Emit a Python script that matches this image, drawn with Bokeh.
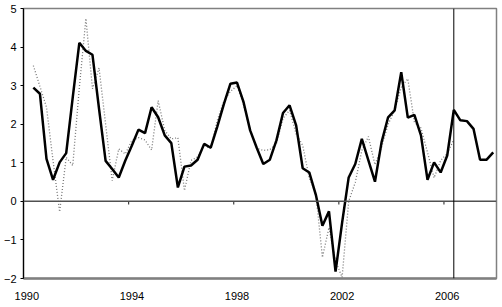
from bokeh.plotting import figure
from bokeh.models import Span, FixedTicker
from bokeh.embed import file_html
from bokeh.resources import INLINE

# Quarterly data, 1990Q1 .. 2007Q4 (index 0 = 1990Q1); both series start at 1990Q2
start_year = 1990
n_quarters = 72
label_years = [1990, 1994, 1998, 2002, 2006]
y_ticks = [-2, -1, 0, 1, 2, 3, 4, 5]

solid = [2.95, 2.79, 1.10, 0.56, 1.01, 1.25, 2.70, 4.11, 3.90, 3.80,
         2.40, 1.05, 0.84, 0.62, 1.06, 1.45, 1.86, 1.77, 2.44, 2.18,
         1.71, 1.51, 0.36, 0.90, 0.93, 1.08, 1.49, 1.39, 1.94, 2.52,
         3.05, 3.08, 2.57, 1.84, 1.39, 0.97, 1.08, 1.58, 2.29, 2.49,
         1.97, 0.86, 0.75, 0.17, -0.63, -0.26, -1.82, -0.55, 0.62, 0.97,
         1.62, 1.06, 0.51, 1.53, 2.18, 2.36, 3.35, 2.17, 2.24, 1.71,
         0.56, 1.01, 0.75, 1.19, 2.37, 2.10, 2.08, 1.88, 1.08, 1.08,
         1.27]

dotted = [3.52, 2.98, 2.44, 1.05, -0.27, 1.14, 0.93, 2.95, 4.74, 2.92,
          3.46, 2.00, 0.54, 1.36, 1.23, 1.58, 1.65, 1.59, 1.33, 2.61,
          1.84, 1.62, 1.65, 0.28, 1.06, 1.15, 1.45, 1.37, 2.10, 2.60,
          2.85, 3.00, 2.50, 1.85, 1.38, 1.32, 1.34, 1.50, 2.15, 2.36,
          1.75, 1.45, 0.60, 0.20, -1.45, -0.68, -1.54, -1.97, 0.00, 0.49,
          1.32, 1.68, 0.95, 1.40, 2.00, 2.36, 2.96, 3.18, 2.05, 1.90,
          1.27, 0.61, 1.06, 1.24, 1.60]

x_solid = list(range(1, 1 + len(solid)))
x_dotted = list(range(1, 1 + len(dotted)))
forecast_start = x_dotted[-1]

p = figure(width=502, height=307, x_range=(-0.5, n_quarters - 0.5), y_range=(-2, 5),
           output_backend="svg", toolbar_location=None,
           min_border_left=22, min_border_right=6, min_border_top=8, min_border_bottom=29)
p.background_fill_color = "white"
p.border_fill_color = "white"
p.outline_line_color = "#808080"
p.outline_line_width = 1.5
p.xgrid.visible = False
p.ygrid.visible = False

# x axis: labels only at the bottom
label_pos = [(y - start_year) * 4 for y in label_years]
p.xaxis.ticker = FixedTicker(ticks=label_pos)
p.xaxis.major_label_overrides = {pos: str(y) for pos, y in zip(label_pos, label_years)}
p.xaxis.major_tick_line_color = None
p.xaxis.minor_tick_line_color = None
p.xaxis.axis_line_color = "#808080"
p.xaxis.axis_line_width = 2.5
p.xaxis.major_label_standoff = 7
p.xaxis.major_label_text_font = "Liberation Sans"
p.xaxis.major_label_text_font_size = "11px"
p.xaxis.major_label_text_color = "black"

p.yaxis.ticker = FixedTicker(ticks=y_ticks)
p.yaxis.axis_line_color = "black"
p.yaxis.axis_line_width = 1.2
p.yaxis.major_tick_line_color = "black"
p.yaxis.major_tick_in = 0
p.yaxis.major_tick_out = 3
p.yaxis.minor_tick_line_color = None
p.yaxis.major_label_standoff = 4
p.yaxis.major_label_text_font = "Liberation Sans"
p.yaxis.major_label_text_font_size = "11px"
p.yaxis.major_label_text_color = "black"

# zero line with category tick marks
p.add_layout(Span(location=0, dimension="width", line_color="#505050", line_width=1.5))
tick_x = [(y - start_year) * 4 - 0.5 for y in label_years[1:]]
p.segment(x0=tick_x, y0=[0] * len(tick_x), x1=tick_x, y1=[-0.08] * len(tick_x),
          line_color="#404040", line_width=1.2)

p.line(x_dotted, dotted, line_color="#777777", line_width=1.3, line_dash="1 2")
p.line(x_solid, solid, line_color="black", line_width=2.5)

p.add_layout(Span(location=forecast_start, dimension="height", line_color="black", line_width=1))

open("out.html", "w").write(file_html(p, INLINE))
